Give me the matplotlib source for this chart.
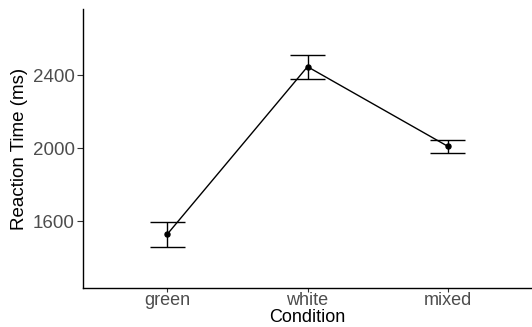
import matplotlib
matplotlib.use("Agg")
import matplotlib.pyplot as plt
import numpy as np

plt.rcParams['font.family'] = ['Liberation Sans', 'DejaVu Sans']

conditions = ['green', 'white', 'mixed']
rt_mean = [1529, 2447, 2011]
rt_lower = [1461, 2381, 1975]
rt_upper = [1598, 2510, 2044]
yticks = [1600, 2000, 2400]

fig = plt.figure(figsize=(5.32, 3.27), dpi=100)
ax = fig.add_axes([83/532, 39/327, 449/532, 279/327])

x = np.arange(1, len(conditions) + 1)
mean = np.array(rt_mean)

ax.plot(x, mean, color='black', lw=1.0, zorder=2)
ax.plot(x, mean, 'o', color='black', ms=3.6, zorder=3)
# error bars with wide caps (width 0.25 in data units)
for xi, lo, hi in zip(x, rt_lower, rt_upper):
    ax.vlines(xi, lo, hi, color='black', lw=1.0)
    ax.hlines([lo, hi], xi - 0.125, xi + 0.125, color='black', lw=1.0)

ax.set_xlim(0.4, 3.6)
ax.set_ylim(1235, 2763)
ax.set_xticks(x)
ax.set_xticklabels(conditions)
ax.set_yticks(yticks)

for s in ['top', 'right']:
    ax.spines[s].set_visible(False)
for s in ['left', 'bottom']:
    ax.spines[s].set_linewidth(1.0)
ax.tick_params(axis='both', length=4, width=0.8, color='#333333',
               labelcolor='#4D4D4D', labelsize=13.5, pad=2)
ax.tick_params(axis='x', length=3, labelsize=13, pad=0)
ax.set_xlabel('Condition', fontsize=13, labelpad=0)
ax.set_ylabel('Reaction Time (ms)', fontsize=13.5, labelpad=3)

fig.savefig('out.png', dpi=100)
